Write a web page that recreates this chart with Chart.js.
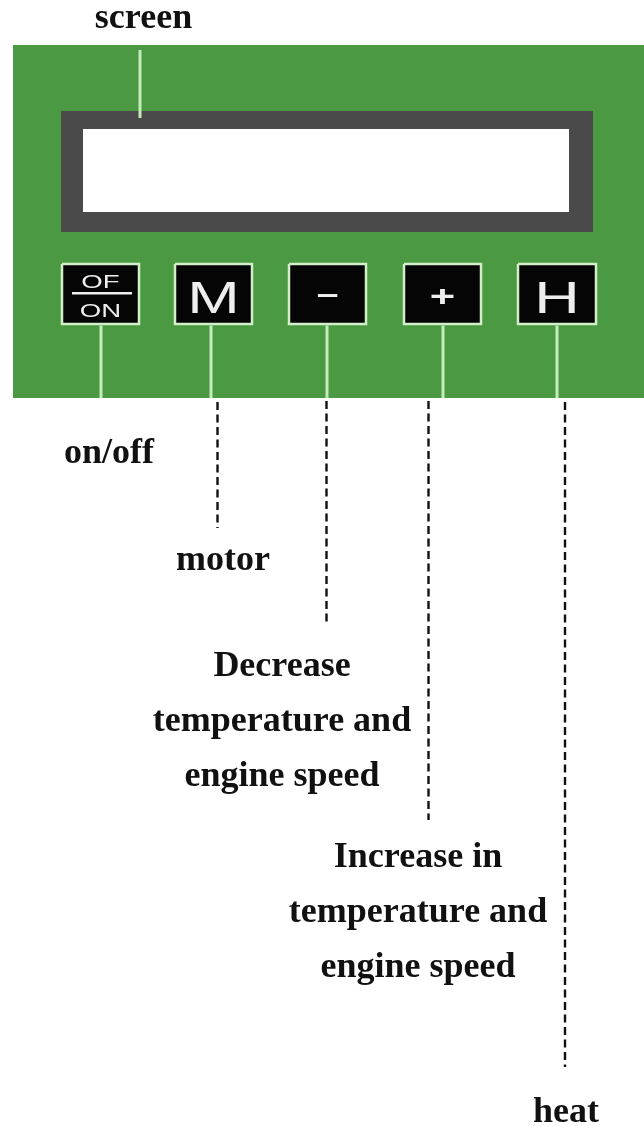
<!DOCTYPE html>
<html>
<head>
<meta charset="utf-8">
<script src="https://cdn.jsdelivr.net/npm/chart.js@4/dist/chart.umd.min.js"></script>
<style>
  html, body { margin: 0; padding: 0; background: #ffffff; }
  #wrap { position: relative; width: 644px; height: 1126px; }
</style>
</head>
<body>
<div id="wrap"><canvas id="c"></canvas></div>
<script>
// ---- content (text) ----
const calloutLabels = [
  ['screen'],
  ['on/off'],
  ['motor'],
  ['Decrease', 'temperature and', 'engine speed'],
  ['Increase in', 'temperature and', 'engine speed'],
  ['heat']
];
const buttonSymbols = ['OF/ON', 'M', '\u2013', '+', 'H'];

// ---- layout (diagram coordinates, same units as the axes) ----
const panelBox   = [13, 45, 644, 398];
const frameBox   = [61, 111, 593, 232];
const screenBox  = [83, 129, 569, 212];
const buttonLeft  = [62, 175, 289, 404, 518];
const buttonRight = [139, 252, 366, 481, 596];
const buttonTop = 264, buttonBottom = 324;
const stemX = [101, 211, 327, 443, 557];
const stemTop = 324, stemBottom = 398;
const screenPointerX = 140, screenPointerTop = 50, screenPointerBottom = 118;
const leaderX = [217.5, 326.5, 428.5, 565];
const leaderTop = [402, 401, 401, 402];
const leaderBottom = [528, 625, 820, 1067];
const labelX = [143.5, 109, 223, 282, 418, 566];
const labelBaseline = [28, 463, 570, 676, 867, 1122];
const labelLineGap = 55;

// ---- styles ----
const GREEN = '#4b9943', FRAME = '#4a4a4a', PALE = '#c4ebb9', BTN_EDGE = '#d3efca';

function rectPts(b) {
  return [{x:b[0],y:b[1]},{x:b[2],y:b[1]},{x:b[2],y:b[3]},{x:b[0],y:b[3]},{x:b[0],y:b[1]}];
}
function shapeSet(b, fill, edge, width, order) {
  return { data: rectPts(b), showLine: true, fill: 'shape', backgroundColor: fill,
           borderColor: edge || fill, borderWidth: width || 0, pointRadius: 0, order: order };
}
function segSet(x, y0, y1, color, width, dash, order) {
  return { data: [{x:x,y:y0},{x:x,y:y1}], showLine: true, fill: false, borderColor: color,
           borderWidth: width, borderDash: dash || [], pointRadius: 0, order: order, borderCapStyle: 'butt' };
}

const datasets = [];
datasets.push(shapeSet(panelBox, GREEN, GREEN, 0, 50));
datasets.push(shapeSet(frameBox, FRAME, FRAME, 0, 40));
datasets.push(shapeSet(screenBox, '#ffffff', '#ffffff', 0, 30));
datasets.push(segSet(screenPointerX, screenPointerTop, screenPointerBottom, PALE, 3, null, 20));
buttonSymbols.forEach((s, i) => {
  datasets.push(shapeSet([buttonLeft[i], buttonTop, buttonRight[i], buttonBottom], '#050505', BTN_EDGE, 2.5, 10));
  datasets.push(segSet(stemX[i], stemTop + 1.5, stemBottom, PALE, 3, null, 10));
});
leaderX.forEach((x, i) => {
  datasets.push(segSet(x, leaderTop[i], leaderBottom[i], '#111111', 2.4, [8, 4.5], 5));
});

function stretchedText(ctx, t, x, y, k) {
  ctx.save();
  ctx.translate(x, y);
  ctx.scale(k, 1);
  ctx.fillText(t, 0, 0);
  ctx.restore();
}

const textPlugin = {
  id: 'diagramText',
  afterDatasetsDraw(chart) {
    const ctx = chart.ctx, sx = chart.scales.x, sy = chart.scales.y;
    ctx.save();
    // callout labels
    ctx.fillStyle = '#111111';
    ctx.textAlign = 'center';
    ctx.textBaseline = 'alphabetic';
    ctx.font = 'bold 36px "Liberation Serif", "DejaVu Serif", serif';
    calloutLabels.forEach((lines, i) => {
      lines.forEach((t, k) => {
        ctx.fillText(t, sx.getPixelForValue(labelX[i]), sy.getPixelForValue(labelBaseline[i] + k * labelLineGap));
      });
    });
    // button symbols
    ctx.fillStyle = '#eeeeee';
    buttonSymbols.forEach((s, i) => {
      const cx = sx.getPixelForValue((buttonLeft[i] + buttonRight[i]) / 2);
      if (s === 'OF/ON') {
        const parts = s.split('/');
        ctx.font = '19px "Liberation Sans", Arial, sans-serif';
        stretchedText(ctx, parts[0], cx, sy.getPixelForValue(288), 1.45);
        stretchedText(ctx, parts[1], cx, sy.getPixelForValue(317), 1.45);
        ctx.fillRect(sx.getPixelForValue(buttonLeft[i] + 10), sy.getPixelForValue(292),
                     sx.getPixelForValue(buttonRight[i] - 7) - sx.getPixelForValue(buttonLeft[i] + 10), 2.5);
      } else if (s === 'M' || s === 'H') {
        ctx.font = '45px "Liberation Sans", Arial, sans-serif';
        stretchedText(ctx, s, cx, sy.getPixelForValue(313), 1.4);
      } else if (s === '+') {
        ctx.font = 'bold 30px "Liberation Sans", Arial, sans-serif';
        stretchedText(ctx, s, cx, sy.getPixelForValue(306), 1.45);
      } else {
        ctx.font = 'bold 30px "Liberation Sans", Arial, sans-serif';
        stretchedText(ctx, s, cx, sy.getPixelForValue(304), 1.3);
      }
    });
    ctx.restore();
  }
};

new Chart(document.getElementById('c'), {
  type: 'scatter',
  data: { datasets: datasets },
  options: {
    responsive: true,
    maintainAspectRatio: false,
    animation: false,
    events: [],
    layout: { padding: 0 },
    plugins: { legend: { display: false }, tooltip: { enabled: false } },
    elements: { line: { tension: 0 } },
    scales: {
      x: { type: 'linear', min: 0, max: 644, display: false },
      y: { type: 'linear', min: 0, max: 1126, reverse: true, display: false }
    }
  },
  plugins: [textPlugin]
});
</script>
</body>
</html>
